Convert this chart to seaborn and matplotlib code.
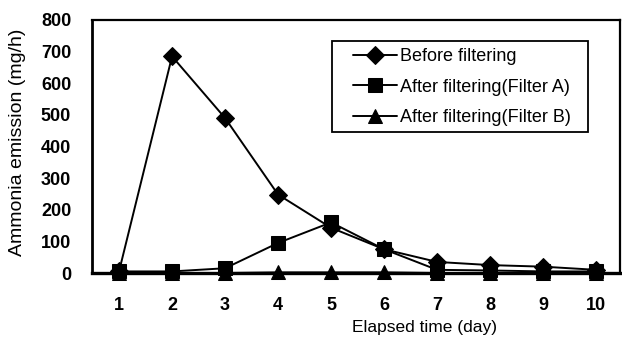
import matplotlib
matplotlib.use("Agg")
import matplotlib.pyplot as plt
import seaborn as sns
import pandas as pd
from matplotlib.ticker import FixedLocator
from matplotlib.patches import Rectangle

days = [1, 2, 3, 4, 5, 6, 7, 8, 9, 10]
before = [5, 685, 490, 248, 143, 75, 35, 25, 20, 10]
filter_a = [5, 5, 15, 95, 160, 75, 10, 8, 5, 5]
filter_b = [0, 0, 0, 2, 2, 2, 0, 0, 0, 0]
series_names = ["Before filtering", "After filtering(Filter A)", "After filtering(Filter B)"]
yticks = [0, 100, 200, 300, 400, 500, 600, 700, 800]

rows = []
for name, vals in zip(series_names, [before, filter_a, filter_b]):
    for d, v in zip(days, vals):
        rows.append({"day": d, "value": v, "series": name})
df = pd.DataFrame(rows)

sns.set_style("white")
plt.rcParams["font.family"] = ["Liberation Sans", "DejaVu Sans"]
plt.rcParams.update({"text.color": "black", "axes.labelcolor": "black",
                     "xtick.color": "black", "ytick.color": "black"})

W, H = 622, 345
fig = plt.figure(figsize=(W / 100, H / 100), dpi=100)
AX_L, AX_R, AX_T, AX_B = 92, 620, 20, 273
ax = fig.add_axes([AX_L / W, 1 - AX_B / H, (AX_R - AX_L) / W, (AX_B - AX_T) / H])

def axfx(px):
    return (px - AX_L) / (AX_R - AX_L)

def axfy(py):
    return (AX_B - py) / (AX_B - AX_T)

marker_map = {series_names[0]: "D", series_names[1]: "s", series_names[2]: "^"}
sns.lineplot(data=df, x="day", y="value", style="series", hue="series",
             palette=["black"] * 3, markers=marker_map,
             dashes=False, markersize=9.5, linewidth=1.4, markeredgecolor="black",
             ax=ax, legend=True)
sizes = {"D": 9, "s": 10, "^": 10.5}
for line in ax.lines:
    m = line.get_marker()
    if m in sizes:
        line.set_markersize(sizes[m])
    line.set_clip_on(False)
    line.set_zorder(5)

ax.set_xlim(0.49, 10.45)
ax.set_ylim(0, 800)
ax.set_xticks(days)
ax.xaxis.set_minor_locator(FixedLocator([d + 0.5 for d in days[:-1]]))
ax.set_yticks(yticks)
ax.tick_params(axis="x", which="major", length=0, labelsize=13, pad=17, labelcolor="black")
ax.tick_params(axis="x", which="minor", length=4, direction="in", width=1.2, color="black")
ax.tick_params(axis="y", which="major", length=5, direction="in", width=1.2, color="black",
               labelsize=13, pad=15, labelcolor="black")
for lab in ax.get_xticklabels() + ax.get_yticklabels():
    lab.set_fontweight("bold")
for name, s in ax.spines.items():
    s.set_visible(True)
    s.set_color("black")
    s.set_linewidth(1.6)
ax.spines["bottom"].set_linewidth(2.4)
ax.spines["left"].set_linewidth(2.0)

ax.set_xlabel("Elapsed time (day)", fontsize=12.5, color="black")
ax.set_ylabel("Ammonia emission (mg/h)", fontsize=14, color="black")
ax.xaxis.set_label_coords(axfx(424), axfy(320))
ax.yaxis.set_label_coords(axfx(26), axfy(142))

leg = ax.legend(loc="upper left", bbox_to_anchor=(axfx(353), axfy(48)), borderaxespad=0,
                fontsize=13, frameon=False, borderpad=0,
                handlelength=2.43, handletextpad=0.2, labelspacing=0.76,
                labelcolor="black")
for h in leg.legend_handles:
    h.set_linewidth(1.4)

ax.add_patch(Rectangle((axfx(332), axfy(132)), axfx(588) - axfx(332), axfy(41) - axfy(132),
                       transform=ax.transAxes, fill=True, facecolor="white",
                       edgecolor="black", linewidth=1.3, zorder=6, clip_on=False))
leg.set_zorder(7)

fig.savefig("out.png", dpi=100)
